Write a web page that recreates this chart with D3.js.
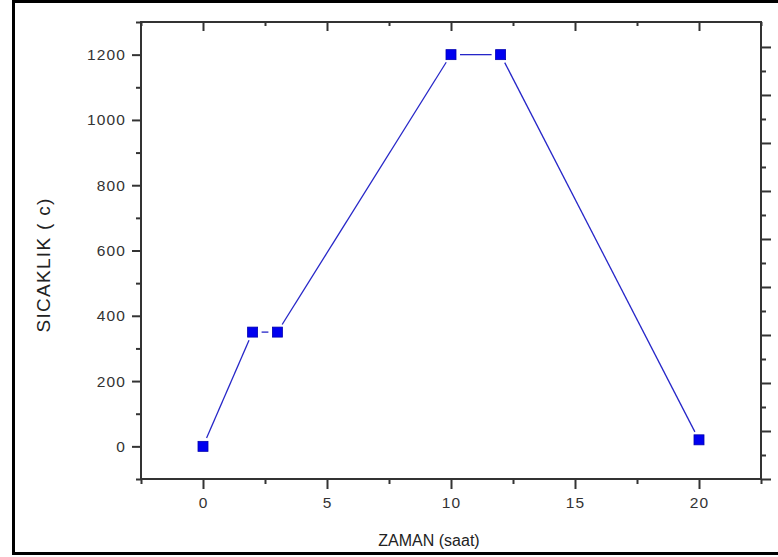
<!DOCTYPE html>
<html>
<head>
<meta charset="utf-8">
<script src="https://cdn.jsdelivr.net/npm/d3@7"></script>
<style>
  html, body { margin: 0; padding: 0; background: #fff; overflow: hidden; }
  svg { display: block; }
  text { font-family: "Liberation Sans", Arial, sans-serif; }
</style>
</head>
<body>
<svg id="chart" width="778" height="557"></svg>
<script>
// Heating profile: time (hours) vs temperature
const hours = [0, 2, 3, 10, 12, 20];
const temps = [0, 350, 350, 1200, 1200, 20];
const xMajorTicks = [0, 5, 10, 15, 20];
const yMajorTicks = [0, 200, 400, 600, 800, 1000, 1200];
const xTitle = "ZAMAN (saat)";
const yTitle = "SICAKLIK ( c)";

const plotL = 141, plotR = 761, plotT = 22, plotB = 479;
const axisColor = "#333";

const svg = d3.select("#chart");

// outer frame: left, top and bottom edges (the right edge lies past the page)
svg.append("path")
  .attr("d", "M778,1.5 H13.5 V553.5 H778")
  .attr("fill", "none").attr("stroke", "#000").attr("stroke-width", 3);

const x = d3.scaleLinear().domain([-2.5, 22.5]).range([plotL, plotR]);
const y = d3.scaleLinear().domain([-100, 1300]).range([plotB, plotT]);
// mirrored right-hand axis with its own spacing
const yR = d3.scaleLinear().domain([0, 9.52]).range([plotB, plotT]);

const xMinor = d3.range(-2.5, 22.51, 2.5).filter(v => !xMajorTicks.includes(v));
const yMinor = d3.range(-100, 1301, 100).filter(v => !yMajorTicks.includes(v));
const rMajor = d3.range(0, 10, 1);
const rMinor = d3.range(0.5, 9.5, 1);

function styleAxis(g) {
  g.select(".domain").remove();
  g.selectAll(".tick line").attr("stroke", axisColor).attr("stroke-width", 2);
  g.selectAll(".tick text").attr("fill", "#333").attr("font-size", 15.5)
    .attr("letter-spacing", 1.1)
    .attr("font-family", "Liberation Sans, Arial, sans-serif");
}

// bottom axis
svg.append("g").attr("transform", `translate(0,${plotB})`)
  .call(d3.axisBottom(x).tickValues(xMajorTicks).tickSize(10).tickPadding(8).tickFormat(d3.format("d")))
  .call(styleAxis);
svg.append("g").attr("transform", `translate(0,${plotB})`)
  .call(d3.axisBottom(x).tickValues(xMinor).tickSize(5).tickFormat(""))
  .call(styleAxis);

// top axis, ticks pointing inward
svg.append("g").attr("transform", `translate(0,${plotT})`)
  .call(d3.axisTop(x).tickValues(xMajorTicks).tickSize(-9).tickFormat(""))
  .call(styleAxis);
svg.append("g").attr("transform", `translate(0,${plotT})`)
  .call(d3.axisTop(x).tickValues(xMinor).tickSize(-4).tickFormat(""))
  .call(styleAxis);

// left axis
svg.append("g").attr("transform", `translate(${plotL},0)`)
  .call(d3.axisLeft(y).tickValues(yMajorTicks).tickSize(9).tickPadding(6).tickFormat(d3.format("d")))
  .call(styleAxis);
svg.append("g").attr("transform", `translate(${plotL},0)`)
  .call(d3.axisLeft(y).tickValues(yMinor).tickSize(5).tickFormat(""))
  .call(styleAxis);

// right axis
svg.append("g").attr("transform", `translate(${plotR},0)`)
  .call(d3.axisRight(yR).tickValues(rMajor).tickSize(10).tickFormat(""))
  .call(styleAxis);
svg.append("g").attr("transform", `translate(${plotR},0)`)
  .call(d3.axisRight(yR).tickValues(rMinor).tickSize(5).tickFormat(""))
  .call(styleAxis);

// axis lines (box)
svg.append("rect")
  .attr("x", plotL).attr("y", plotT).attr("width", plotR - plotL).attr("height", plotB - plotT)
  .attr("fill", "none").attr("stroke", axisColor).attr("stroke-width", 2);

// data line with a small gap around each symbol
const pts = hours.map((h, i) => [x(h), y(temps[i])]);
const gap = 9;
const segs = d3.pairs(pts).map(([a, b]) => {
  const dx = b[0] - a[0], dy = b[1] - a[1];
  const len = Math.hypot(dx, dy);
  const ux = dx / len, uy = dy / len;
  return [a[0] + ux * gap, a[1] + uy * gap, b[0] - ux * gap, b[1] - uy * gap];
});
svg.append("g").selectAll("line").data(segs).join("line")
  .attr("x1", d => d[0]).attr("y1", d => d[1])
  .attr("x2", d => d[2]).attr("y2", d => d[3])
  .attr("stroke", "#2626c8").attr("stroke-width", 1.3);

// square symbols
const s = 10;
svg.append("g").selectAll("rect").data(hours).join("rect")
  .attr("x", (d) => x(d) - s / 2)
  .attr("y", (d, i) => y(temps[i]) - s / 2)
  .attr("width", s).attr("height", s)
  .attr("fill", "#0000f0").attr("stroke", "#0000b0").attr("stroke-width", 0.8);

// axis titles
svg.append("text")
  .attr("x", 429).attr("y", 546)
  .attr("text-anchor", "middle").attr("font-size", 16).attr("fill", "#222")
  .text(xTitle);
svg.append("text")
  .attr("transform", "translate(50,265) rotate(-90)")
  .attr("text-anchor", "middle").attr("font-size", 19).attr("letter-spacing", 1.3).attr("fill", "#222")
  .text(yTitle);
</script>
</body>
</html>
